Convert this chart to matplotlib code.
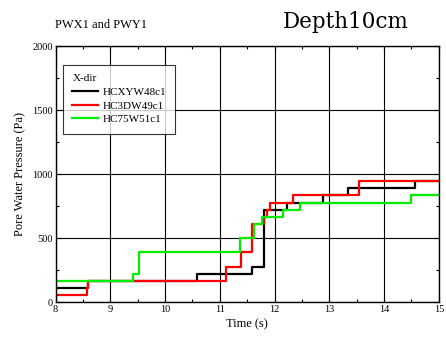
import matplotlib
matplotlib.use("Agg")
import matplotlib.pyplot as plt
from matplotlib.ticker import MultipleLocator

plt.rcParams['font.family'] = ['Liberation Serif', 'DejaVu Serif']

black_t = [8.0, 8.60, 10.58, 11.58, 11.80, 12.22, 12.88, 13.34, 14.56, 15.0]
black_p = [115, 168, 222, 278, 722, 778, 836, 890, 945, 945]

red_t = [8.0, 8.57, 8.60, 11.11, 11.39, 11.58, 11.80, 11.87, 11.92, 12.33, 13.54, 15.0]
red_p = [60, 115, 168, 278, 390, 612, 668, 722, 778, 836, 945, 945]

green_t = [8.0, 9.41, 9.52, 11.37, 11.63, 11.77, 12.16, 12.47, 14.50, 15.0]
green_p = [168, 222, 390, 500, 612, 668, 722, 778, 836, 836]

labels = ['HCXYW48c1', 'HC3DW49c1', 'HC75W51c1']
colors = ['#000000', '#ff0000', '#00ee00']

fig = plt.figure(figsize=(4.46, 3.42), dpi=100)
ax = fig.add_axes([0.1247, 0.116, 0.8593, 0.749])

for t, p, lab, c in zip([black_t, red_t, green_t], [black_p, red_p, green_p], labels, colors):
    ax.plot(t, p, drawstyle='steps-post', color=c, lw=1.6, label=lab)

ax.set_xlim(8, 15)
ax.set_ylim(0, 2000)
ax.xaxis.set_major_locator(MultipleLocator(1))
ax.xaxis.set_minor_locator(MultipleLocator(0.5))
ax.yaxis.set_major_locator(MultipleLocator(500))
ax.yaxis.set_minor_locator(MultipleLocator(250))
ax.grid(True, which='major', color='black', lw=0.8)
ax.set_axisbelow(True)
ax.tick_params(which='both', direction='in', top=True, right=True, labelsize=7.5, pad=2)
ax.tick_params(which='major', length=4, width=0.8)
ax.tick_params(which='minor', length=2.5, width=0.8)
for s in ax.spines.values():
    s.set_linewidth(1.0)

ax.set_xlabel('Time (s)', fontsize=9, labelpad=3)
ax.set_ylabel('Pore Water Pressure (Pa)', fontsize=9, labelpad=4)

leg = ax.legend(title='X-dir', loc='upper left', bbox_to_anchor=(0.019, 0.927),
                fontsize=8, title_fontsize=8, frameon=True, fancybox=False,
                edgecolor='black', handlelength=2.3, borderpad=0.85, borderaxespad=0,
                labelspacing=0.35, handletextpad=0.4)
leg.get_frame().set_linewidth(0.8)
leg._legend_box.align = 'left'

fig.text(0.124, 0.918, 'PWX1 and PWY1', fontsize=9, ha='left', va='baseline')
fig.text(0.634, 0.918, 'Depth10cm', fontsize=15.5, ha='left', va='baseline',
         family=['DejaVu Serif'])

fig.savefig('out.png', dpi=100)
